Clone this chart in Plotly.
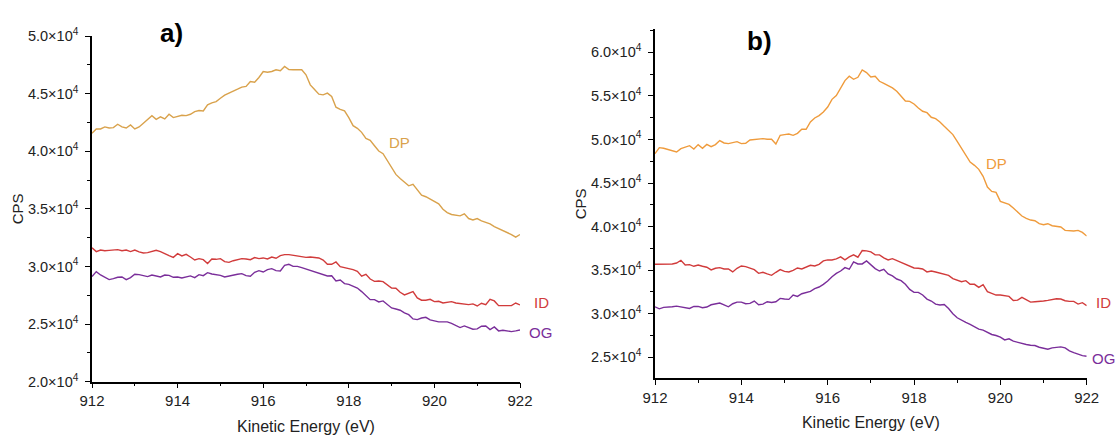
import numpy as np
import plotly.graph_objects as go

# Kinetic energy grid (eV), 0.1 eV step
energy = np.round(np.arange(912.0, 922.0001, 0.1), 1)

# Panel a) intensities (CPS)
dp_a = [
    41560, 41930, 41930, 42110, 42020, 42050, 42340, 42110, 42020, 42280,
    41930, 42110, 42430, 42800, 43090, 42770, 42980, 42800, 43210, 42920,
    43000, 43120, 43090, 43210, 43440, 43530, 43500, 44020, 44190, 44310,
    44600, 44860, 45040, 45180, 45380, 45560, 45620, 46050, 45990, 46400,
    46920, 46860, 46920, 47070, 46980, 47360, 47090, 47070, 47070, 47070,
    46630, 45760, 45350, 44950, 44890, 45040, 44750, 43820, 43640, 43500,
    42920, 42220, 41990, 41640, 41120, 40950, 40480, 40020, 39790, 39150,
    38510, 37990, 37640, 37290, 37000, 37120, 36630, 36190, 36050, 35840,
    35610, 35440, 34970, 34680, 34510, 34450, 34390, 34570, 34160, 34040,
    34160, 33960, 33810, 33700, 33460, 33290, 33120, 32940, 32770, 32540,
    32770,
]
id_a = [
    31630, 31290, 31430, 31370, 31400, 31460, 31460, 31370, 31430, 31290,
    31430, 31260, 31170, 31200, 31290, 31400, 31290, 31080, 30940, 30790,
    31110, 30910, 31050, 30820, 30560, 30680, 30590, 30250, 30650, 30620,
    30680, 30420, 30360, 30500, 30590, 30680, 30650, 30590, 30770, 30680,
    30740, 30650, 30820, 30710, 30940, 31030, 31030, 30970, 30880, 30820,
    30790, 30820, 30770, 30740, 30560, 30190, 30190, 30390, 29980, 29900,
    29840, 29720, 29580, 29150, 29320, 28910, 28710, 28740, 28680, 28420,
    28130, 28110, 27760, 27530, 27700, 27820, 27270, 27070, 27070, 27150,
    26950, 26980, 26830, 26860, 26950, 26830, 26780, 26690, 26690, 26750,
    26570, 26810, 26690, 27150, 27010, 26600, 26600, 26660, 26600, 26830,
    26660,
]
og_a = [
    29120, 29550, 29260, 29030, 28860, 28940, 29060, 29090, 28860, 29030,
    29320, 29290, 29200, 29120, 29260, 29150, 29090, 29260, 29230, 29060,
    29090, 29000, 29090, 29180, 29030, 29290, 29200, 29460, 29350, 29290,
    29230, 29090, 29180, 29230, 29320, 29380, 29200, 29150, 29490, 29640,
    29520, 29720, 29810, 29640, 29610, 30100, 30190, 30010, 30010, 29900,
    29780, 29640, 29490, 29380, 29260, 29180, 29200, 28740, 28830, 28510,
    28450, 28310, 28130, 27820, 27470, 27120, 27120, 26920, 27010, 26720,
    26400, 26310, 26200, 25970, 25820, 25450, 25390, 25530, 25590, 25360,
    25270, 25190, 25190, 25190, 25070, 24900, 24700, 24840, 24700, 24550,
    24580, 24810, 24840, 24520, 24750, 24410, 24470, 24410, 24350, 24410,
    24490,
]

# Panel b) intensities (CPS)
dp_b = [
    48370, 49060, 48990, 48830, 48680, 48560, 48950, 49100, 49290, 48910,
    49410, 48990, 49440, 49180, 49410, 49870, 49600, 49520, 49670, 49750,
    49520, 49560, 49940, 49980, 49980, 50100, 50020, 50020, 49480, 50480,
    50560, 50630, 50480, 50710, 51170, 51170, 52010, 52470, 52740, 53160,
    53730, 54610, 55040, 55840, 56760, 57260, 56910, 57140, 57990, 57680,
    57180, 57260, 56680, 56450, 56220, 55920, 55530, 55000, 54420, 54380,
    54080, 53620, 53240, 53080, 52550, 52390, 52010, 51510, 51050, 50560,
    49790, 49020, 48180, 47410, 47030, 46570, 45770, 44540, 44040, 43930,
    42890, 42740, 42550, 42130, 41670, 41210, 40940, 40750, 40670, 40330,
    40210, 40330, 40100, 40060, 39950, 39560, 39520, 39490, 39560, 39330,
    38910,
]
id_b = [
    35670, 35670, 35670, 35670, 35710, 35820, 36130, 35590, 35630, 35440,
    35590, 35440, 35330, 35020, 35210, 35290, 35130, 35130, 34790, 35210,
    35480, 35400, 35250, 35060, 34630, 34750, 34560, 34400, 34750, 35060,
    34860, 34790, 34980, 35250, 35130, 35360, 35560, 35480, 35670, 36060,
    36170, 36170, 36290, 36520, 36170, 36520, 36750, 36480, 37250, 37210,
    37090, 36750, 36750, 36400, 36170, 36320, 36090, 35900, 35670, 35440,
    35250, 35210, 35130, 34790, 34900, 34790, 34670, 34600, 34400, 34020,
    33830, 33670, 33790, 33370, 33370, 33020, 33330, 32520, 32330, 32140,
    32140, 32060, 31980, 31520, 31560, 31870, 31600, 31330, 31370, 31450,
    31450, 31520, 31640, 31720, 31680, 31490, 31410, 31410, 31100, 31260,
    30910,
]
og_b = [
    30790, 30560, 30720, 30720, 30790, 30870, 30790, 30680, 30600, 30830,
    30830, 30680, 30760, 31020, 31140, 31220, 31020, 30790, 31140, 31330,
    31330, 31140, 31180, 31450, 31020, 31100, 31370, 31290, 31370, 31750,
    31680, 31640, 32140, 31980, 32290, 32450, 32560, 32870, 33060, 33370,
    33750, 34250, 34630, 34900, 35290, 35100, 35940, 35710, 35710, 36060,
    35590, 35170, 34900, 35100, 34560, 34330, 33980, 33790, 33370, 32790,
    32450, 32450, 32140, 31680, 31450, 31100, 30990, 31060, 30600, 29990,
    29530, 29220, 28990, 28760, 28450, 28220, 28110, 27880, 27610, 27490,
    27300, 26990, 27110, 26840, 26690, 26610, 26460, 26380, 26340, 26150,
    26070, 25920, 26070, 26150, 26190, 26070, 25730, 25530, 25340, 25190,
    25110,
]

# Axis ticks
x_ticks = [912, 914, 916, 918, 920, 922]
y_ticks_a = [20000, 25000, 30000, 35000, 40000, 45000, 50000]
y_labels_a = ["2.0×10<sup>4</sup>", "2.5×10<sup>4</sup>", "3.0×10<sup>4</sup>",
              "3.5×10<sup>4</sup>", "4.0×10<sup>4</sup>", "4.5×10<sup>4</sup>",
              "5.0×10<sup>4</sup>"]
y_ticks_b = [25000, 30000, 35000, 40000, 45000, 50000, 55000, 60000]
y_labels_b = ["2.5×10<sup>4</sup>", "3.0×10<sup>4</sup>", "3.5×10<sup>4</sup>",
              "4.0×10<sup>4</sup>", "4.5×10<sup>4</sup>", "5.0×10<sup>4</sup>",
              "5.5×10<sup>4</sup>", "6.0×10<sup>4</sup>"]

C_DP_A = "#D9A24C"
C_DP_B = "#EF9B3C"
C_ID = "#D13B3B"
C_OG = "#7A2E9A"

W, H = 1120, 437
FONT = "Liberation Sans, Arial, sans-serif"

fig = go.Figure()

series = [
    ("x", "y", dp_a, C_DP_A), ("x", "y", id_a, C_ID), ("x", "y", og_a, C_OG),
    ("x2", "y2", dp_b, C_DP_B), ("x2", "y2", id_b, C_ID), ("x2", "y2", og_b, C_OG),
]
for xa, ya, vals, col in series:
    fig.add_trace(go.Scatter(x=energy, y=vals, xaxis=xa, yaxis=ya, mode="lines",
                             line=dict(color=col, width=1.4), showlegend=False,
                             hoverinfo="skip"))


def px_x(p):
    return p / W


def px_y(p):
    return 1 - p / H


axis_common = dict(showline=True, linecolor="black", linewidth=1.5, ticks="outside",
                   ticklen=5, tickwidth=1.2, tickcolor="black", showgrid=False,
                   zeroline=False, mirror=False, automargin=False)

x_common = dict(axis_common, range=[912, 922], tickmode="array", tickvals=x_ticks,
                tickfont=dict(family=FONT, size=15, color="#222"),
                title=dict(text="Kinetic Energy (eV)", standoff=12,
                           font=dict(family=FONT, size=16, color="#222")),
                minor=dict(dtick=1, tick0=912, ticks="outside", ticklen=3,
                           tickwidth=1.2, tickcolor="black"))

y_minor = dict(dtick=2500, ticks="outside", ticklen=3, tickwidth=1.2, tickcolor="black")
y_font = dict(family=FONT, size=14.5, color="#222")

fig.update_layout(
    width=W, height=H,
    margin=dict(l=0, r=0, t=0, b=0),
    paper_bgcolor="white", plot_bgcolor="white",
    xaxis=dict(x_common, domain=[px_x(92), px_x(520)], anchor="y"),
    yaxis=dict(axis_common, domain=[px_y(381.7), px_y(36)], anchor="x",
               range=[20000, 50000], tickmode="array", tickvals=y_ticks_a,
               ticktext=y_labels_a, tickfont=y_font, ticklabelstandoff=4,
               title=dict(text="CPS", standoff=1,
                          font=dict(family=FONT, size=15, color="#222")),
               minor=dict(y_minor, tick0=20000)),
    xaxis2=dict(x_common, domain=[px_x(655), px_x(1086.7)], anchor="y2"),
    yaxis2=dict(axis_common, domain=[px_y(378.3), px_y(29.3)], anchor="x2",
                range=[22580, 62650], tickmode="array", tickvals=y_ticks_b,
                ticktext=y_labels_b, tickfont=y_font, ticklabelstandoff=4,
                title=dict(text="CPS", standoff=1,
                           font=dict(family=FONT, size=15, color="#222")),
                minor=dict(y_minor, tick0=22500)),
)

# Panel letters
for txt, cx, cy in [("a)", 171, 33), ("b)", 759, 41)]:
    fig.add_annotation(text=f"<b>{txt}</b>", x=px_x(cx), y=px_y(cy), xref="paper",
                       yref="paper", showarrow=False, xanchor="center", yanchor="middle",
                       font=dict(family=FONT, size=26, color="black"))

# Series labels
labels = [
    ("DP", 399, 142, C_DP_A), ("ID", 541, 302, C_ID), ("OG", 540, 332, C_OG),
    ("DP", 997, 163, C_DP_B), ("ID", 1103, 302, C_ID), ("OG", 1103, 358, C_OG),
]
for txt, cx, cy, col in labels:
    fig.add_annotation(text=txt, x=px_x(cx), y=px_y(cy), xref="paper", yref="paper",
                       showarrow=False, xanchor="center", yanchor="middle",
                       font=dict(family=FONT, size=15, color=col))

fig.write_html("out.html")
